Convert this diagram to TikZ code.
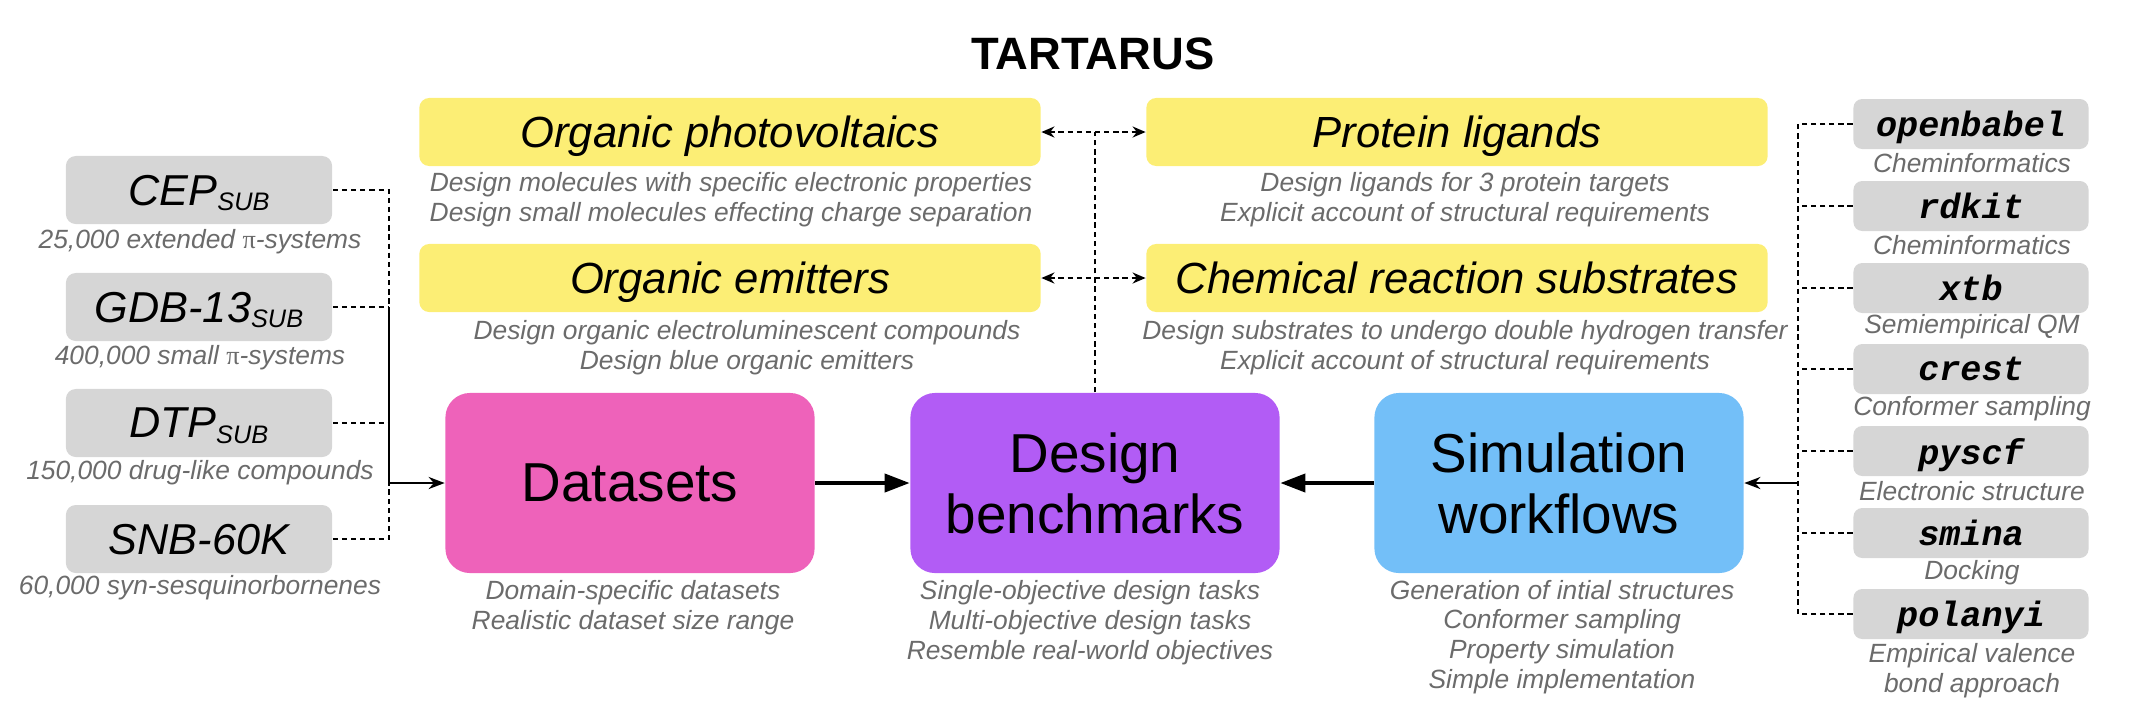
\documentclass[tikz,border=0pt]{standalone}
\usepackage{fontspec}
\setmainfont{Liberation Sans}
\newfontfamily\codefont{Liberation Mono}
\newfontfamily\greekfont{Liberation Serif}
\usetikzlibrary{arrows.meta,positioning}
\definecolor{taskyellow}{HTML}{FCEE75}
\definecolor{setpink}{HTML}{EE62BA}
\definecolor{benchpurple}{HTML}{B25CF5}
\definecolor{simblue}{HTML}{73BFF8}
\definecolor{boxgray}{HTML}{D6D6D6}
\definecolor{capgray}{HTML}{6B6B6B}
\newcommand{\setsub}[1]{\raisebox{-0.12em}{\fontsize{7.2}{8}\selectfont #1}}
\newcommand{\pisym}{{\upshape\greekfont π}}

\begin{document}
\begin{tikzpicture}[x=0.01cm,y=-0.01cm,
setbox/.style={fill=boxgray,rounded corners=2.8pt,minimum width=2.66cm,minimum height=0.68cm,inner sep=0pt,text depth=0pt,font=\fontsize{12.3}{14}\selectfont\itshape},
toolbox/.style={fill=boxgray,rounded corners=2.5pt,minimum width=2.35cm,minimum height=0.5cm,inner sep=0pt,text depth=0pt,font=\fontsize{10}{12}\selectfont\codefont\bfseries\itshape},
taskbox/.style={fill=taskyellow,rounded corners=2.8pt,minimum width=6.21cm,minimum height=0.68cm,inner sep=0pt,text depth=0pt,font=\fontsize{12.4}{14}\selectfont\itshape},
mainbox/.style={rounded corners=7pt,minimum width=3.69cm,minimum height=1.8cm,inner sep=0pt,align=center,text depth=0pt,font=\fontsize{15.6}{17.4}\selectfont},
note/.style={text=capgray,align=center,inner sep=0pt,font=\fontsize{7.5}{8.5}\selectfont\itshape},
link/.style={line width=0.7pt,dash pattern=on 1.5pt off 1.1pt},
joint/.style={line width=0.8pt},
feed/.style={-{Stealth[length=0.16cm,width=0.12cm]},line width=0.8pt},
bigarrow/.style={-{Triangle[length=0.25cm,width=0.18cm]},line width=1.1pt},
dbl/.style={link,{Stealth[length=0.13cm,width=0.11cm]}-{Stealth[length=0.13cm,width=0.11cm]}}]
\useasboundingbox (0,0) rectangle (2130,726);
\node[font=\fontsize{12.9}{14}\selectfont\bfseries] (title) at (1093,54) {TARTARUS};
% datasets on the left
\node[setbox] (cep) at (199,190) {CEP\setsub{SUB}};
\node[note] (cepnote) at (200,242) {25,000 extended \pisym-systems};
\node[setbox] (gdb) at (199,307) {GDB-13\setsub{SUB}};
\node[note] (gdbnote) at (200,358) {400,000 small \pisym-systems};
\node[setbox] (dtp) at (199,423) {DTP\setsub{SUB}};
\node[note] (dtpnote) at (200,473) {150,000 drug-like compounds};
\node[setbox] (snb) at (199,539) {SNB-60K};
\node[note] (snbnote) at (200,588) {60,000 syn-sesquinorbornenes};
% main blocks
\node[mainbox,fill=setpink] (data) at (630,483) {Datasets};
\node[note] (datanote) at (633,608) {Domain-specific datasets\\Realistic dataset size range};
\node[mainbox,fill=benchpurple] (bench) at (1095,483) {Design\\benchmarks};
\node[note] (benchnote) at (1090,623) {Single-objective design tasks\\Multi-objective design tasks\\Resemble real-world objectives};
\node[mainbox,fill=simblue] (sim) at (1559,483) {Simulation\\workflows};
\node[note] (simnote) at (1562,637) {Generation of intial structures\\Conformer sampling\\Property simulation\\Simple implementation};
% benchmark tasks
\node[taskbox] (opv) at (730,132) {Organic photovoltaics};
\node[note] (opvnote) at (731,200) {Design molecules with specific electronic properties\\Design small molecules effecting charge separation};
\node[taskbox] (emit) at (730,278) {Organic emitters};
\node[note] (emitnote) at (747,348) {Design organic electroluminescent compounds\\Design blue organic emitters};
\node[taskbox] (lig) at (1457,132) {Protein ligands};
\node[note] (lignote) at (1465,200) {Design ligands for 3 protein targets\\Explicit account of structural requirements};
\node[taskbox] (rxn) at (1457,278) {Chemical reaction substrates};
\node[note] (rxnnote) at (1465,348) {Design substrates to undergo double hydrogen transfer\\Explicit account of structural requirements};
% simulation tools on the right
\node[toolbox] (obabel) at (1971,124) {openbabel};
\node[note] (obabelnote) at (1972,163) {Cheminformatics};
\node[toolbox] (rdkit) at (1971,206) {rdkit};
\node[note] (rdkitnote) at (1972,245) {Cheminformatics};
\node[toolbox] (xtb) at (1971,288) {xtb};
\node[note] (xtbnote) at (1972,327) {Semiempirical QM};
\node[toolbox] (crest) at (1971,369) {crest};
\node[note] (crestnote) at (1972,409) {Conformer sampling};
\node[toolbox] (pyscf) at (1971,451) {pyscf};
\node[note] (pyscfnote) at (1972,491) {Electronic structure};
\node[toolbox] (smina) at (1971,533) {smina};
\node[note] (sminanote) at (1972,573) {Docking};
\node[toolbox] (polanyi) at (1971,614) {polanyi};
\node[note] (polanyinote) at (1972,671) {Empirical valence\\bond approach};
% connectors
\coordinate (lj) at (389,483);
\coordinate (rj) at (1798,483);
\draw[link] (cep.east) -| (lj);
\draw[link] (gdb.east) -- (gdb.east -| lj);
\draw[link] (dtp.east) -- (dtp.east -| lj);
\draw[link] (snb.east) -| (lj);
\draw[joint] (gdb.east -| lj) -- (lj);
\draw[feed] (lj) -- (data.west);
\draw[link] (obabel.west) -| (rj);
\draw[link] (rdkit.west) -- (rdkit.west -| rj);
\draw[link] (xtb.west) -- (xtb.west -| rj);
\draw[link] (crest.west) -- (crest.west -| rj);
\draw[link] (pyscf.west) -- (pyscf.west -| rj);
\draw[link] (smina.west) -- (smina.west -| rj);
\draw[link] (polanyi.west) -| (rj);
\draw[feed] (rj) -- (sim.east);
\draw[bigarrow] (data) -- (bench);
\draw[bigarrow] (sim) -- (bench);
\coordinate (hub) at (bench.north |- opv.east);
\draw[link] (bench.north) -- (hub);
\draw[dbl] (opv) -- (lig);
\draw[dbl] (emit) -- (rxn);
\end{tikzpicture}
\end{document}
